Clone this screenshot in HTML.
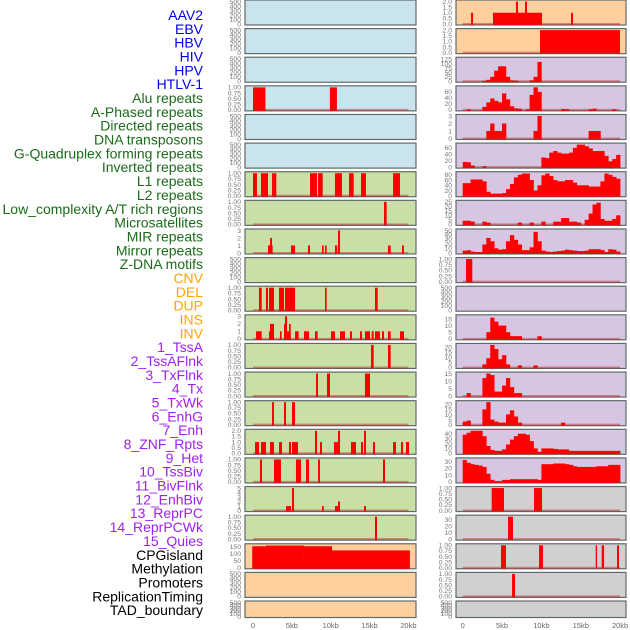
<!DOCTYPE html>
<html><head><meta charset="utf-8"><style>
html,body{margin:0;padding:0;background:#fff;}
svg{display:block;font-family:"Liberation Sans",sans-serif;}
</style></head><body>
<svg id="chart" width="630" height="630" viewBox="0 0 630 630"></svg>
<script>
const labels = ["AAV2","EBV","HBV","HIV","HPV","HTLV-1","Alu repeats","A-Phased repeats","Directed repeats","DNA transposons","G-Quadruplex forming repeats","Inverted repeats","L1 repeats","L2 repeats","Low_complexity A/T rich regions","Microsatellites","MIR repeats","Mirror repeats","Z-DNA motifs","CNV","DEL","DUP","INS","INV","1_TssA","2_TssAFlnk","3_TxFlnk","4_Tx","5_TxWk","6_EnhG","7_Enh","8_ZNF_Rpts","9_Het","10_TssBiv","11_BivFlnk","12_EnhBiv","13_ReprPC","14_ReprPCWk","15_Quies","CPGisland","Methylation","Promoters","ReplicationTiming","TAD_boundary"];
const labelGroups = [6,13,5,15,5];
const groupColors = ["#0000ee","#1a6b1a","#ffa500","#a020f0","#000000"];
const xTicks = [0,5,10,15,20];
const xTickLabels = ["0","5kb","10kb","15kb","20kb"];

const iv = {
 "HIV":[[0,1.6,1],[9.9,10.8,1]],
 "Alu repeats":[[0,0.51,1],[1.03,1.93,1],[2.45,3.0,1],[7.34,8.24,1],[8.37,8.97,1],[10.55,11.45,1],[12.36,12.96,1],[13.9,14.54,1],[18.02,18.92,1]],
 "A-Phased repeats":[[16.86,17.2,1]],
 "Directed repeats":[[1.93,2.53,1],[2.19,2.45,2],[4.89,5.41,1],[7.08,7.34,1],[8.88,9.1,1],[9.27,9.48,1],[10.55,10.85,1],[10.94,11.2,3],[17.37,17.72,1],[19.18,19.43,1]],
 "G-Quadruplex forming repeats":[[0.77,1.12,1],[1.67,1.93,1],[2.06,2.7,1],[3.35,3.99,1],[4.12,5.41,1],[9.27,9.48,1],[15.7,16.05,1]],
 "Inverted repeats":[[0.39,1.12,1],[2.06,2.7,1],[2.19,2.7,2],[3.47,3.69,1],[3.99,4.25,2],[4.12,4.38,3],[4.38,4.85,1],[4.63,4.85,2],[5.41,5.88,1],[6.56,7.21,1],[7.98,8.32,1],[10.04,10.55,1],[11.2,11.84,1],[12.48,12.74,1],[13.77,14.03,1],[14.41,15.06,1],[15.27,15.53,1],[15.7,16.34,1],[16.6,16.86,1],[17.37,17.72,1],[18.92,19.43,1]],
 "L1 repeats":[[15.19,15.53,1],[17.37,17.72,1]],
 "L2 repeats":[[8.11,8.37,1],[9.52,9.91,1],[14.41,15.06,1]],
 "Low_complexity A/T rich regions":[[2.45,2.7,1],[3.99,4.25,1],[5.02,5.41,1]],
 "Microsatellites":[[0.26,0.77,1],[1.03,1.67,1],[2.19,2.7,1],[3.35,3.73,1],[4.63,4.89,1],[5.02,5.79,1],[7.98,8.24,2],[8.62,8.88,1],[10.42,10.94,1],[10.94,11.2,2],[12.61,13.26,1],[13.9,14.16,1],[14.29,14.54,2],[15.44,15.7,1],[18.02,18.4,1],[19.05,19.3,1],[19.69,20.08,1]],
 "MIR repeats":[[0.9,1.16,1],[2.7,3.6,1],[5.53,6.18,1],[6.82,7.21,1],[8.37,8.62,1],[16.73,16.99,1]],
 "Mirror repeats":[[4.25,4.89,1],[5.02,5.28,5],[8.88,9.1,1],[10.55,10.94,1],[10.94,11.2,2],[14.29,14.54,1]],
 "Z-DNA motifs":[[15.7,15.96,1]],
 "CNV":[[-0.1,1.67,155],[1.67,6.56,160],[6.56,10.17,155],[10.17,20.2,125]],
 "INS":[[1.06,1.31,1],[3.85,10.08,1],[6.77,7.03,2],[7.92,8.17,2],[13.76,14.02,1]],
 "INV":[[9.82,19.99,2]],
 "8_ZNF_Rpts":[[0.42,1.22,1]],
 "CPGisland":[[3.68,5.25,1],[9.06,10.08,1]],
 "Methylation":[[5.76,6.39,35]],
 "Promoters":[[4.87,5.5,1],[9.7,10.2,1],[16.9,17.07,1],[17.66,17.96,1],[19.61,19.86,1]],
 "ReplicationTiming":[[6.27,6.65,1]]
};
const hist = {
 "1_TssA":[0,0,0,0,0,2,8,25,60,85,85,25,5,3,0,0,0,5,25,110,0,0,0,0,0,0,0,0,0,0,0,0,0,0,0,0,0,0,0,0],
 "2_TssAFlnk":[0,2,0,0,0,10,25,38,30,25,55,35,12,5,4,0,2,50,75,60,0,0,0,0,0,3,2,0,0,0,0,0,2,4,0,0,0,0,2,0],
 "3_TxFlnk":[0,0,0,0,0,0,1,2,1,1,2,0,0,0,0,0,0,0,1,3,0,0,0,0,0,0,0,0,0,0,0,0,1,1,1,0,0,0,0,0],
 "4_Tx":[16,15,5,0,0,3,0,0,0,0,0,0,0,0,0,0,0,0,0,0,30,28,45,50,45,42,42,45,60,70,70,65,58,50,50,50,35,18,25,38],
 "5_TxWk":[48,48,62,62,62,55,15,8,8,8,10,25,45,70,80,85,85,60,20,40,78,85,75,60,55,55,60,60,50,40,40,40,35,35,35,55,85,80,72,65],
 "6_EnhG":[4,4,3,0,0,3,2,0,0,0,0,0,0,0,2,0,0,2,0,0,3,0,0,3,3,7,7,3,3,2,0,5,12,22,24,6,4,4,6,10],
 "7_Enh":[5,6,3,2,2,18,32,25,10,7,8,25,38,28,18,6,6,12,45,25,5,3,2,3,4,5,7,6,5,4,4,5,8,8,8,6,2,8,7,3],
 "10_TssBiv":[0,0,0,0,0,0,5,16,13,10,10,5,2,2,2,0,0,0,0,2,0,0,0,0,0,0,0,0,0,0,0,0,0,0,0,0,0,0,0,0],
 "11_BivFlnk":[0,0,0,0,0,3,9,22,18,8,12,3,0,0,2,0,0,0,2,0,0,0,0,0,0,0,0,0,0,0,0,0,0,0,0,0,0,0,0,0],
 "12_EnhBiv":[0,2,0,0,0,12,15,14,3,3,7,12,6,2,2,0,0,0,0,0,0,0,0,0,0,0,0,0,0,0,0,0,0,0,0,0,0,0,0,0],
 "13_ReprPC":[3,4,0,0,0,15,22,5,3,2,2,10,14,8,2,0,0,0,0,0,0,0,0,0,0,2,0,0,0,0,0,0,0,0,0,0,0,0,0,0],
 "14_ReprPCWk":[38,42,46,46,46,35,15,7,5,5,8,18,28,35,40,40,38,25,10,3,10,10,10,9,8,8,8,5,5,5,5,5,5,5,5,5,5,5,5,5],
 "15_Quies":[32,28,26,25,24,22,12,3,1,1,3,3,4,4,4,4,4,4,4,3,26,26,26,27,27,27,26,25,23,22,22,22,22,22,23,23,23,25,25,25]
};
const ticks01 = [0,0.25,0.5,0.75,1];
const ticks02 = [0,0.5,1,1.5,2];
const ticksEmpty = [0,100,200,300,400,500];
const yTicks = {
 "HIV":ticks01,"Alu repeats":ticks01,"A-Phased repeats":ticks01,"Directed repeats":[0,1,2,3],
 "G-Quadruplex forming repeats":ticks01,"Inverted repeats":[0,1,2,3],"L1 repeats":ticks01,"L2 repeats":ticks01,
 "Low_complexity A/T rich regions":ticks01,"Microsatellites":ticks02,"MIR repeats":ticks01,"Mirror repeats":[0,1,2,3,4,5],
 "Z-DNA motifs":ticks01,"CNV":[0,50,100,150],"INS":ticks02,"INV":ticks02,
 "1_TssA":[0,25,50,75,100,125],"2_TssAFlnk":[0,20,40,60],"3_TxFlnk":[0,1,2,3],"4_Tx":[0,20,40,60],
 "5_TxWk":[0,20,40,60,80],"6_EnhG":[0,5,10,15,20,25],"7_Enh":[0,10,20,30,40,50],"8_ZNF_Rpts":ticks01,
 "10_TssBiv":[0,5,10,15],"11_BivFlnk":[0,5,10,15,20],"12_EnhBiv":[0,5,10,15],"13_ReprPC":[0,5,10,15,20],
 "14_ReprPCWk":[0,10,20,30,40],"15_Quies":[0,10,20,30],"CPGisland":ticks01,"Methylation":[0,10,20,30],
 "Promoters":ticks01,"ReplicationTiming":ticks01
};
const yMaxOverride = {"CNV":162,"1_TssA":128,"2_TssAFlnk":75,"4_Tx":70,"5_TxWk":86,"7_Enh":48,"10_TssBiv":17,"11_BivFlnk":22,"13_ReprPC":22,"14_ReprPCWk":46,"15_Quies":33,"Methylation":35};
const bgColors = {blue:"#c9e4ec",green:"#c8e0a6",peach:"#ffd09e",lav:"#d6c6e2",gray:"#d0d0d0"};

const NS="http://www.w3.org/2000/svg";
const svg=document.getElementById('chart');
function mk(tag,attrs,parent){const e=document.createElementNS(NS,tag);for(const k in attrs)e.setAttribute(k,attrs[k]);(parent||svg).appendChild(e);return e;}

let gi=0,cnt=0;
labels.forEach((lab,i)=>{
  while(cnt>=labelGroups[gi]){gi++;cnt=0;}
  cnt++;
  const t=mk('text',{x:203,y:15+i*13.84+5,'text-anchor':'end','font-size':'14',fill:groupColors[gi]});
  t.textContent=lab;
  
  
});

function fmt(v,ticks){
  if(ticks===ticks01) return v.toFixed(2);
  if(ticks===ticks02) return v.toFixed(1);
  return String(v);
}
const cols=[{x0:245,x1:416,z:253,s:7.77},{x0:456,x1:626,z:462.7,s:7.87}];
labels.forEach((lab,i)=>{
  const col=i<22?0:1, row=i%22;
  const C=cols[col];
  const top=row*28.62, h=row<21?25:16.5, bot=top+h;
  let bg;
  if(col===0) bg=row<6?bgColors.blue:row<19?bgColors.green:bgColors.peach;
  else bg=row<2?bgColors.peach:row<17?bgColors.lav:bgColors.gray;
  const g=mk('g',{});
  
  
  mk('rect',{x:C.x0,y:top,width:C.x1-C.x0,height:h,fill:bg,stroke:'#5f6a6a','stroke-width':1.2},g);
  const tk=yTicks[lab]||ticksEmpty;
  const ymax=yMaxOverride[lab]||tk[tk.length-1];
  const xs=kb=>C.z+kb*C.s;
  const ys=v=>bot-1-Math.min(v,ymax)/ymax*(h-2.5);
  tk.forEach(v=>{
    const t=mk('text',{x:C.x0-4,y:ys(v)+2.3,'text-anchor':'end','font-size':'6.8',fill:'#777'},g);
    t.textContent=fmt(v,tk);
    
    
  });
  if(iv[lab]) iv[lab].forEach(d=>{
    const r=mk('rect',{x:xs(d[0]),y:ys(d[2]),width:Math.max(1,xs(d[1])-xs(d[0])),height:ys(0)-ys(d[2])+1,fill:'#ff0000'},g);
    
    
  });
  if(hist[lab]) hist[lab].forEach((v,j)=>{
    if(v<=0) return;
    const r=mk('rect',{x:xs(j*0.5),y:ys(v),width:xs((j+1)*0.5)-xs(j*0.5)+0.3,height:ys(0)-ys(v)+1,fill:'#ff0000'},g);
    
    
  });
  if(tk!==ticksEmpty) mk('line',{x1:xs(0),x2:xs(20),y1:bot-1,y2:bot-1,stroke:'rgba(190,30,30,0.45)','stroke-width':2},g);
  if(row===21){
    xTicks.forEach((v,k)=>{
      const t=mk('text',{x:xs(v),y:628,'text-anchor':'middle','font-size':'7.5',fill:'#666'});
      t.textContent=xTickLabels[k];
      
      
    });
  }
});
</script>
</body></html>
